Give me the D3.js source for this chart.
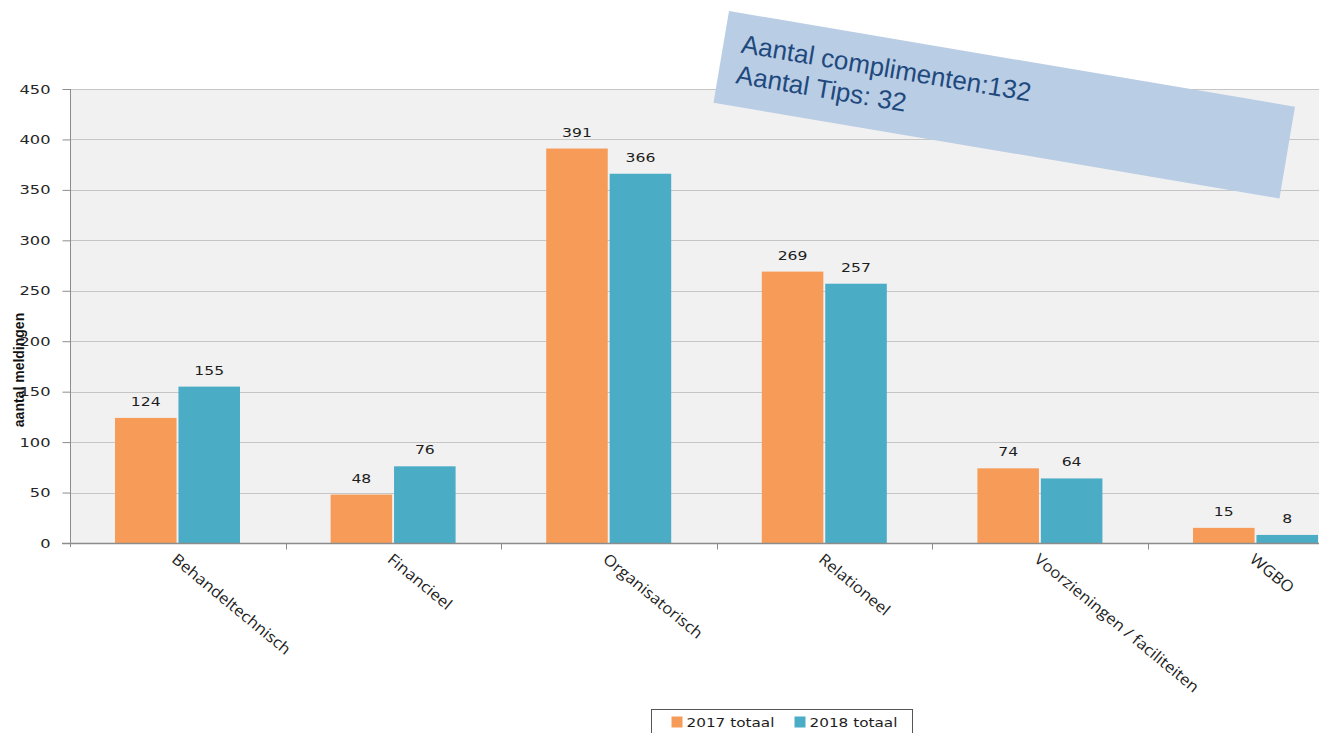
<!DOCTYPE html>
<html>
<head>
<meta charset="utf-8">
<script src="https://cdn.jsdelivr.net/npm/d3@7"></script>
<style>
  html, body { margin: 0; padding: 0; background: #fff; overflow: hidden; }
  svg { display: block; }
</style>
</head>
<body>
<svg id="chart" width="1319" height="733"></svg>
<script>
// Klachten per categorie, 2017 vs 2018
const categories = ["Behandeltechnisch", "Financieel", "Organisatorisch", "Relationeel", "Voorzieningen / faciliteiten", "WGBO"];
const seriesNames = ["2017 totaal", "2018 totaal"];
const values2017 = [124, 48, 391, 269, 74, 15];
const values2018 = [155, 76, 366, 257, 64, 8];
const yTicks = [0, 50, 100, 150, 200, 250, 300, 350, 400, 450];
const noteLines = ["Aantal complimenten:132", "Aantal Tips: 32"];
const colors = ["#f79c58", "#4bacc6"];

const svg = d3.select("#chart");
const W = 1319, H = 733;
const plotLeft = 70, plotTop = 89, plotBottom = 543;
const step = 215.6;

const x0 = d3.scaleBand().domain(categories).range([plotLeft, plotLeft + step * categories.length]).padding(0);
const x1 = d3.scaleBand().domain(seriesNames).range([45, 170]).paddingInner(0.03);
const y = d3.scaleLinear().domain([0, 450]).range([plotBottom, plotTop]);

// widen text along its baseline
function stretch(sel, f) {
  sel.each(function () {
    const len = this.getComputedTextLength();
    d3.select(this).attr("textLength", len * f).attr("lengthAdjust", "spacingAndGlyphs");
  });
}

// plot background
svg.append("rect").attr("x", plotLeft).attr("y", plotTop).attr("width", W - plotLeft).attr("height", plotBottom - plotTop).attr("fill", "#f1f1f1");

// grid lines
svg.append("g").selectAll("line").data(yTicks.filter(d => d > 0)).join("line")
  .attr("x1", plotLeft).attr("x2", W).attr("y1", d => Math.round(y(d)) + 0.5).attr("y2", d => Math.round(y(d)) + 0.5)
  .attr("stroke", "#c6c6c6").attr("stroke-width", 1.2);

// y axis
const yAxis = svg.append("g").attr("transform", `translate(${plotLeft + 0.5},0)`)
  .call(d3.axisLeft(y).tickValues(yTicks).tickSize(8).tickPadding(12));
yAxis.select(".domain").attr("stroke", "#8c8c8c").attr("d", `M0,${plotTop}V${plotBottom + 4}`);
yAxis.selectAll(".tick line").attr("stroke", "#8c8c8c");
yAxis.selectAll(".tick text").attr("font-family", "DejaVu Sans").attr("font-size", 12.5).attr("fill", "#262626")
  .call(stretch, 1.3);

// bars
const groups = svg.append("g").selectAll("g").data(categories).join("g")
  .attr("transform", d => `translate(${x0(d)},0)`);
const rows = (c, i) => [
  { s: seriesNames[0], v: values2017[i], c: colors[0] },
  { s: seriesNames[1], v: values2018[i], c: colors[1] }
];
groups.selectAll("rect").data(rows).join("rect")
  .attr("x", d => x1(d.s)).attr("width", x1.bandwidth())
  .attr("y", d => y(d.v)).attr("height", d => y(0) - y(d.v))
  .attr("fill", d => d.c);
groups.selectAll("text").data(rows).join("text")
  .attr("x", d => x1(d.s) + x1.bandwidth() / 2).attr("y", d => y(d.v) - 12)
  .attr("text-anchor", "middle").attr("font-family", "DejaVu Sans").attr("font-size", 12.5).attr("fill", "#1e1e1e")
  .text(d => d.v)
  .call(stretch, 1.25);

// x axis
const xAxis = svg.append("g").attr("transform", `translate(0,${plotBottom + 0.5})`);
xAxis.append("line").attr("x1", plotLeft - 8).attr("x2", W).attr("stroke", "#8c8c8c").attr("stroke-width", 1.5);
xAxis.selectAll("line.tk").data(categories.slice(1)).join("line").attr("class", "tk")
  .attr("x1", d => Math.round(x0(d)) + 0.5).attr("x2", d => Math.round(x0(d)) + 0.5)
  .attr("y1", 0).attr("y2", 6).attr("stroke", "#8c8c8c");
xAxis.selectAll("text").data(categories).join("text")
  .attr("transform", d => `translate(${x0(d) + x0.bandwidth() / 2 - 4},${14}) rotate(39.5)`)
  .attr("font-family", "Open Sans").attr("font-size", 15.5).attr("fill", "#1e1e1e")
  .attr("dy", "0.3em")
  .text(d => d)
  .call(stretch, 1.08);

// y axis title
svg.append("text")
  .attr("transform", `translate(24,370) rotate(-90)`)
  .attr("text-anchor", "middle").attr("font-family", "Liberation Sans").attr("font-weight", "bold")
  .attr("font-size", 14).attr("fill", "#111")
  .text("aantal meldingen");

// legend
const lg = svg.append("g").attr("transform", "translate(651.5,709.5)");
lg.append("rect").attr("width", 261).attr("height", 40).attr("fill", "#fff").attr("stroke", "#555");
const items = lg.selectAll("g").data(seriesNames).join("g")
  .attr("transform", (d, i) => `translate(${20 + i * 123},7)`);
items.append("rect").attr("width", 11).attr("height", 11).attr("fill", (d, i) => colors[i]);
items.append("text").attr("x", 15).attr("y", 10.5).attr("font-family", "DejaVu Sans").attr("font-size", 12.5)
  .attr("fill", "#1e1e1e").text(d => d).call(stretch, 1.22);

// note box
const note = svg.append("g").attr("transform", "translate(729,11) rotate(9.6)");
note.append("rect").attr("width", 574).attr("height", 93).attr("fill", "#b9cde5");
note.selectAll("text").data(noteLines).join("text")
  .attr("x", 18).attr("y", (d, i) => 39 + i * 31)
  .attr("font-family", "Liberation Sans").attr("font-size", 26).attr("fill", "#1f497d")
  .text(d => d);
</script>
</body>
</html>
